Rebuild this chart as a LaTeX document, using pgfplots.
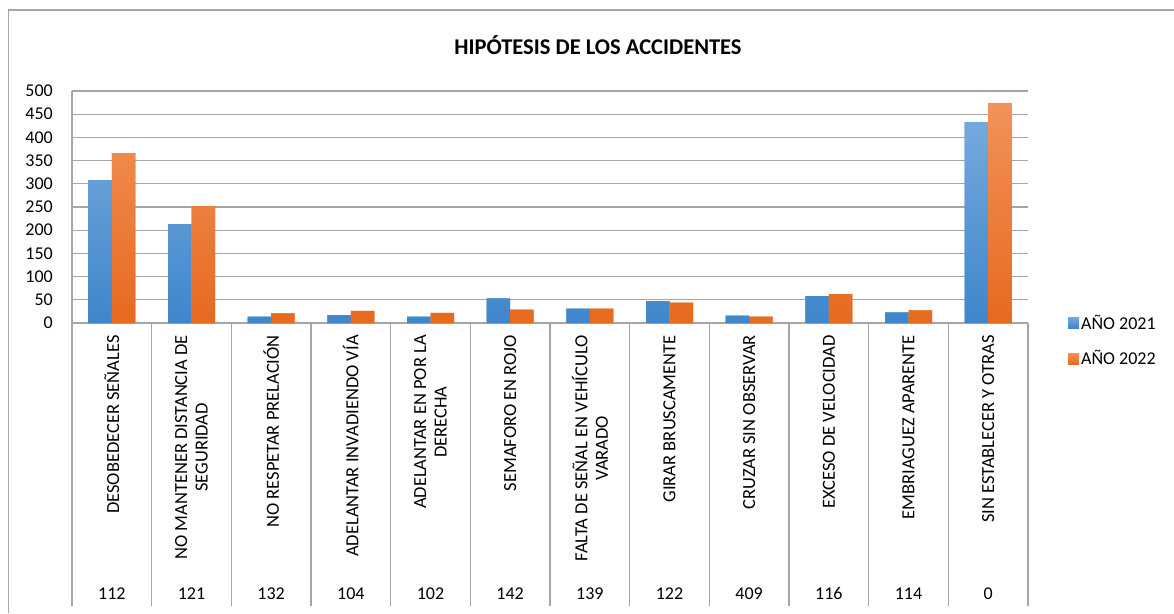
\documentclass[border=0pt]{standalone}
\usepackage{pgfplots}
\pgfplotsset{compat=1.18}
\usepackage{fontspec}
\setmainfont{Carlito}
\definecolor{gridc}{HTML}{A6A6A6}
\definecolor{bluetop}{HTML}{74A9DD}
\definecolor{bluebot}{HTML}{3F86CA}
\definecolor{orgtop}{HTML}{F2925A}
\definecolor{orgbot}{HTML}{E66A1E}
\begin{document}
\begin{tikzpicture}
\path[use as bounding box] (0,0) rectangle (1174pt,613pt);
\draw[gridc, line width=1.2pt] (8.5pt,0) -- (8.5pt,603pt) -- (1174pt,603pt);
\node[font=\fontsize{22.5}{24}\selectfont\bfseries] at (598pt,568pt) {HIPÓTESIS DE LOS ACCIDENTES};
\begin{axis}[
  at={(72pt,290pt)}, anchor=south west,
  scale only axis, width=956pt, height=232pt,
  xmin=-0.5, xmax=11.5, ymin=0, ymax=500,
  ytick={0,50,...,500},
  xtick={0,...,11},
  minor xtick={-0.5,0.5,...,11.5},
  xticklabels={
    {DESOBEDECER SEÑALES},
    {NO MANTENER DISTANCIA DE\\SEGURIDAD},
    {NO RESPETAR PRELACIÓN},
    {ADELANTAR INVADIENDO VÍA},
    {ADELANTAR EN POR LA\\DERECHA},
    {SEMAFORO EN ROJO},
    {FALTA DE SEÑAL EN VEHÍCULO\\VARADO},
    {GIRAR BRUSCAMENTE},
    {CRUZAR SIN OBSERVAR},
    {EXCESO DE VELOCIDAD},
    {EMBRIAGUEZ APARENTE},
    {SIN ESTABLECER Y OTRAS}},
  xticklabel style={rotate=90, anchor=east, align=center, inner sep=0pt,
    font=\fontsize{18.5}{20.5}\selectfont},
  xticklabel shift=12pt,
  yticklabel style={font=\fontsize{18}{20}\selectfont, inner sep=0pt},
  yticklabel shift=19pt,
  /pgf/number format/assume math mode=true,
  axis lines*=left,
  axis line style={gridc, line width=1.2pt},
  ymajorgrids, grid style={gridc, line width=1.2pt},
  major tick length=0pt,
  minor tick length=283pt,
  tick align=outside,
  minor x tick style={gridc, line width=1.2pt},
  ybar=0pt, bar width=23.5pt,
  legend style={at={(1.0418,0.045)}, anchor=north west, draw=none, fill=none,
    font=\fontsize{18}{20}\selectfont, inner sep=0pt,
    row sep=16pt, /tikz/every even column/.append style={column sep=4pt}},
  legend image code/.code={\fill[#1] (0pt,-5.5pt) rectangle (11pt,5.5pt);},
  legend cell align=left,
]
\addplot[draw=none, top color=bluetop, bottom color=bluebot, fill=bluebot!85!white] coordinates {
(0,308) (1,213) (2,14) (3,17) (4,14) (5,53) (6,31) (7,47) (8,16) (9,58) (10,23) (11,433)};
\addplot[draw=none, top color=orgtop, bottom color=orgbot, fill=orgbot!90!white] coordinates {
(0,366) (1,252) (2,21) (3,26) (4,22) (5,29) (6,31) (7,44) (8,14) (9,62) (10,27) (11,474)};
\legend{AÑO 2021, AÑO 2022}
\end{axis}
\begin{axis}[
  at={(72pt,290pt)}, anchor=south west,
  scale only axis, width=956pt, height=232pt,
  xmin=-0.5, xmax=11.5, ymin=0, ymax=500,
  axis line style={draw=none}, ytick=\empty,
  xtick={0,...,11},
  xticklabels={112,121,132,104,102,142,139,122,409,116,114,0},
  xticklabel style={font=\fontsize{18}{20}\selectfont, anchor=base, inner sep=0pt},
  /pgf/number format/assume math mode=true,
  xticklabel shift=276pt,
  major tick length=0pt, tick style={draw=none},
]
\end{axis}
\end{tikzpicture}
\end{document}
